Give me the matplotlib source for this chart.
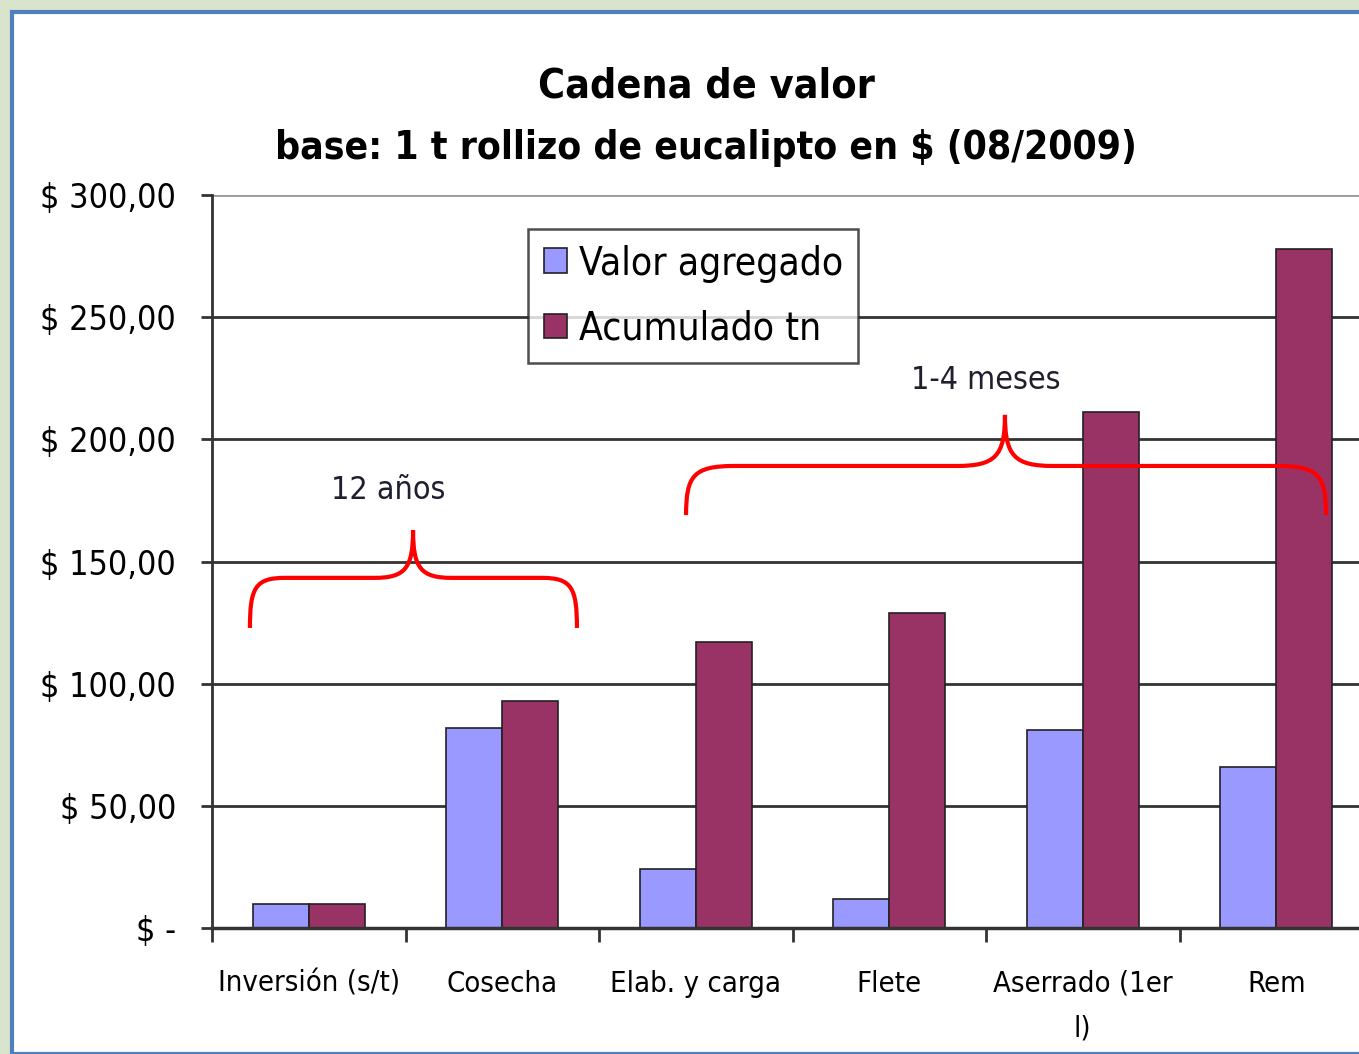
import matplotlib
matplotlib.use("Agg")
import matplotlib.pyplot as plt
from matplotlib.path import Path
from matplotlib.patches import PathPatch, Rectangle
import numpy as np

categories = ["Inversión (s/t)", "Cosecha", "Elab. y carga", "Flete", "Aserrado (1er\nl)", "Rem"]
valor_agregado = [10, 82, 24, 12, 81, 66]
acumulado = [10, 93, 117, 129, 211, 278]
yticks = [0, 50, 100, 150, 200, 250, 300]
ytick_labels = ["$ -", "$ 50,00", "$ 100,00", "$ 150,00", "$ 200,00", "$ 250,00", "$ 300,00"]

plt.rcParams["font.family"] = ["DejaVu Sans"]
plt.rcParams["font.stretch"] = "condensed"

W, H = 1359, 1054
fig = plt.figure(figsize=(W / 100, H / 100), dpi=100)
fig.patch.set_facecolor("#d9e4cc")
fig.patches.append(Rectangle((12 / W, 0), 1, (H - 12) / H, transform=fig.transFigure,
                             facecolor="white", edgecolor="#4f81bd", linewidth=3, zorder=-5))

ax = fig.add_axes([212 / W, (H - 928) / H, (1373 - 212) / W, (928 - 195) / H])
ax.set_facecolor("none")
x = np.arange(len(categories))
bw = 0.29
ax.bar(x - bw / 2, valor_agregado, bw, color="#9999ff", edgecolor="#222222", linewidth=1.2,
       label="Valor agregado", zorder=3)
ax.bar(x + bw / 2, acumulado, bw, color="#993366", edgecolor="#222222", linewidth=1.2,
       label="Acumulado tn", zorder=3)

ax.set_xlim(-0.5, len(categories) - 0.5)
ax.set_ylim(0, 300)
ax.set_yticks(yticks)
ax.set_yticklabels(ytick_labels, fontsize=24.5)
ax.set_xticks(x)
ax.set_xticklabels(categories, fontsize=21, linespacing=1.75)
ax.tick_params(axis="x", length=0, pad=30)
ax.set_xticks(np.arange(len(categories) + 1) - 0.5, minor=True)
ax.tick_params(axis="x", which="minor", length=10, width=2, color="#333333", direction="out")
ax.tick_params(axis="y", length=8, width=2, color="#333333", pad=18)
for v in yticks[1:]:
    ax.axhline(v, color="#9a9a9a" if v == 300 else "#333333", linewidth=2, zorder=1)
for s in ["top", "right"]:
    ax.spines[s].set_visible(False)
ax.spines["left"].set_linewidth(2)
ax.spines["left"].set_color("#333333")
ax.spines["bottom"].set_linewidth(2.5)
ax.spines["bottom"].set_color("#333333")
ax.spines["bottom"].set_zorder(4)

fig.text(706 / W, 1 - 87 / H, "Cadena de valor", ha="center", va="center", fontsize=29.5, fontweight="bold")
fig.text(706 / W, 1 - 148 / H, "base: 1 t rollizo de eucalipto en $ (08/2009)", ha="center",
         va="center", fontsize=28, fontweight="bold")

leg = ax.legend(loc="upper left",
                bbox_to_anchor=((528 - 212) / (1373 - 212), (928 - 229) / (928 - 195)),
                fontsize=28, frameon=True, fancybox=False, edgecolor="#222222",
                handlelength=0.6, handleheight=0.6, handletextpad=0.3, borderpad=0.4,
                labelspacing=0.7, borderaxespad=0)
leg.get_frame().set_linewidth(1.8)
leg.set_zorder(5)


def brace(ax, x0, x1, xt, ybase, yline, ytip, r=0.18, rt=0.2):
    hy = (yline - ybase)
    verts = [(x0, ybase), (x0, ybase + hy * 0.8), (x0 + r * 0.15, yline), (x0 + r, yline),
             (xt - rt, yline),
             (xt - rt * 0.2, yline), (xt, yline + 4), (xt, ytip),
             (xt, yline + 4), (xt + rt * 0.2, yline), (xt + rt, yline),
             (x1 - r, yline),
             (x1 - r * 0.15, yline), (x1, ybase + hy * 0.8), (x1, ybase)]
    codes = [Path.MOVETO, Path.CURVE4, Path.CURVE4, Path.CURVE4, Path.LINETO,
             Path.CURVE4, Path.CURVE4, Path.CURVE4, Path.CURVE4, Path.CURVE4, Path.CURVE4,
             Path.LINETO, Path.CURVE4, Path.CURVE4, Path.CURVE4]
    ax.add_patch(PathPatch(Path(verts, codes), facecolor="none", edgecolor="#ff0000",
                           linewidth=3, zorder=6, clip_on=False))


brace(ax, -0.304, 1.386, 0.539, 122.8, 143.3, 162.9)
ax.text(0.41, 179, "12 años", ha="center", va="center", fontsize=23, color="#1f1f2f", zorder=6)
brace(ax, 1.95, 5.257, 3.598, 169, 189.1, 210, r=0.25, rt=0.25)
ax.text(3.5, 224, "1-4 meses", ha="center", va="center", fontsize=23, color="#1f1f2f", zorder=6)

fig.savefig("out.png", dpi=100)
